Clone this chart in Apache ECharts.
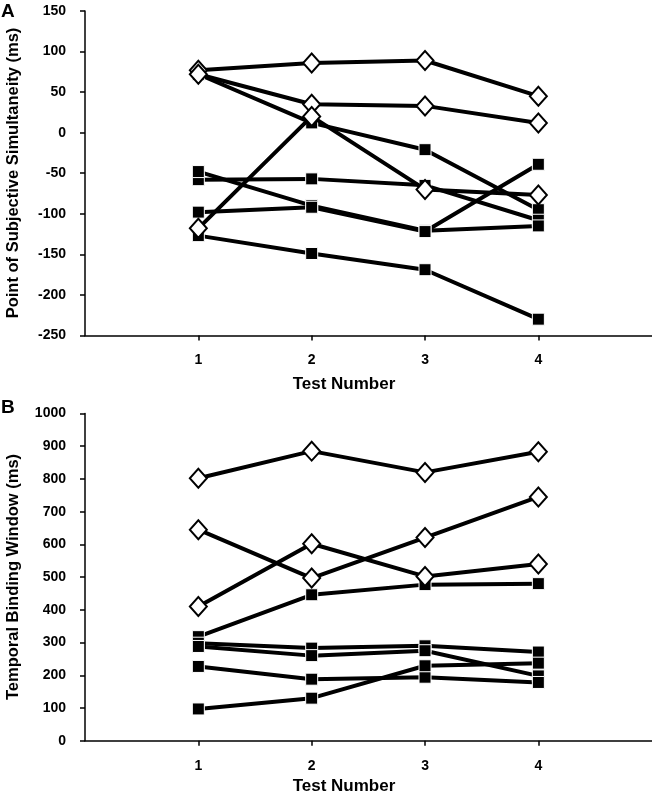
<!DOCTYPE html>
<html>
<head>
<meta charset="utf-8">
<script src="https://cdn.jsdelivr.net/npm/echarts@6/dist/echarts.min.js"></script>
<style>
  html, body { margin: 0; padding: 0; background: #fff; }
  #chart { width: 652px; height: 800px; }
</style>
</head>
<body>
<div id="chart"></div>
<script>
// ---- Data ----
const testNumbers = [1, 2, 3, 4];
const xTickLabels = ['1', '2', '3', '4'];

// Panel A: Point of Subjective Simultaneity (ms)
const pssSquare1 = [72, 12, -21, -95];
const pssSquare2 = [-58, -57, -65, -108];
const pssSquare3 = [-48, -90, -121, -115];
const pssSquare4 = [-98, -92, -122, -39];
const pssSquare5 = [-127, -149, -169, -230];
const pssDiamond1 = [77, 86, 89, 45];
const pssDiamond2 = [72, 35, 33, 12];
const pssDiamond3 = [-118, 20, -70, -77];

// Panel B: Temporal Binding Window (ms)
const tbwSquare1 = [318, 446, 477, 480];
const tbwSquare2 = [298, 283, 290, 271];
const tbwSquare3 = [288, 260, 275, 198];
const tbwSquare4 = [227, 188, 194, 178];
const tbwSquare5 = [97, 130, 229, 237];
const tbwDiamond1 = [802, 885, 820, 883];
const tbwDiamond2 = [645, 497, 621, 745];
const tbwDiamond3 = [410, 602, 502, 540];

const squaresA = [pssSquare1, pssSquare2, pssSquare3, pssSquare4, pssSquare5];
const diamondsA = [pssDiamond1, pssDiamond2, pssDiamond3];
const squaresB = [tbwSquare1, tbwSquare2, tbwSquare3, tbwSquare4, tbwSquare5];
const diamondsB = [tbwDiamond1, tbwDiamond2, tbwDiamond3];

// ---- Chart ----
const FONT = 'Liberation Sans, Arial, sans-serif';
const chart = echarts.init(document.getElementById('chart'), null, { renderer: 'canvas' });

function pairs(vals) { return testNumbers.map((t, i) => [t, vals[i]]); }

function squareSeries(vals, idx) {
  return {
    type: 'line', xAxisIndex: idx, yAxisIndex: idx,
    data: pairs(vals),
    symbol: 'rect', symbolSize: 12,
    lineStyle: { color: '#000', width: 4 },
    itemStyle: { color: '#000', borderColor: '#fff', borderWidth: 1 },
    z: 2, animation: false, silent: true
  };
}
function diamondSeries(vals, idx) {
  return {
    type: 'line', xAxisIndex: idx, yAxisIndex: idx,
    data: pairs(vals),
    symbol: 'diamond', symbolSize: [17, 19],
    lineStyle: { color: '#000', width: 4 },
    itemStyle: { color: '#fff', borderColor: '#000', borderWidth: 2 },
    z: 3, animation: false, silent: true
  };
}

function xAxis(idx) {
  return {
    type: 'value', gridIndex: idx, min: 0, max: 5, interval: 1,
    axisLine: { onZero: false, lineStyle: { color: '#000', width: 1.5 } },
    axisTick: { show: true, customValues: testNumbers, length: 5, lineStyle: { color: '#000', width: 1.5 } },
    axisLabel: {
      customValues: testNumbers,
      formatter: v => xTickLabels[testNumbers.indexOf(v)] || '',
      color: '#000', fontFamily: FONT, fontWeight: 'bold', fontSize: 14, margin: 18
    },
    splitLine: { show: false }
  };
}
function yAxis(idx, min, max, interval) {
  return {
    type: 'value', gridIndex: idx, min, max, interval,
    axisLine: { show: true, onZero: false, lineStyle: { color: '#000', width: 1.5 } },
    axisTick: { show: true, length: 5, lineStyle: { color: '#000', width: 1.5 } },
    axisLabel: { formatter: v => String(v), color: '#000', fontFamily: FONT, fontWeight: 'bold', fontSize: 14, margin: 19 },
    splitLine: { show: false }
  };
}

const series = [];
squaresA.forEach(s => series.push(squareSeries(s, 0)));
diamondsA.forEach(s => series.push(diamondSeries(s, 0)));
squaresB.forEach(s => series.push(squareSeries(s, 1)));
diamondsB.forEach(s => series.push(diamondSeries(s, 1)));

const titleStyle = { fill: '#000', fontFamily: FONT, fontWeight: 'bold', fontSize: 16.5 };

chart.setOption({
  backgroundColor: '#fff',
  animation: false,
  grid: [
    { left: 85, top: 11, width: 566.7, height: 324.4 },
    { left: 85, top: 413.5, width: 566.7, height: 327.2 }
  ],
  xAxis: [xAxis(0), xAxis(1)],
  yAxis: [yAxis(0, -250, 150, 50), yAxis(1, 0, 1000, 100)],
  series,
  graphic: [
    { type: 'text', left: 1, top: 2, style: { text: 'A', fill: '#000', fontFamily: FONT, fontWeight: 'bold', fontSize: 19 } },
    { type: 'text', left: 1, top: 398, style: { text: 'B', fill: '#000', fontFamily: FONT, fontWeight: 'bold', fontSize: 19 } },
    { type: 'text', x: 13, y: 173, rotation: Math.PI / 2,
      style: Object.assign({ text: 'Point of Subjective Simultaneity (ms)', align: 'center', verticalAlign: 'middle' }, titleStyle) },
    { type: 'text', x: 13, y: 577, rotation: Math.PI / 2,
      style: Object.assign({ text: 'Temporal Binding Window (ms)', align: 'center', verticalAlign: 'middle' }, titleStyle) },
    { type: 'text', x: 344, y: 384,
      style: Object.assign({ text: 'Test Number', align: 'center', verticalAlign: 'middle' }, titleStyle, { fontSize: 17 }) },
    { type: 'text', x: 344, y: 786,
      style: Object.assign({ text: 'Test Number', align: 'center', verticalAlign: 'middle' }, titleStyle, { fontSize: 17 }) }
  ]
});
</script>
</body>
</html>
